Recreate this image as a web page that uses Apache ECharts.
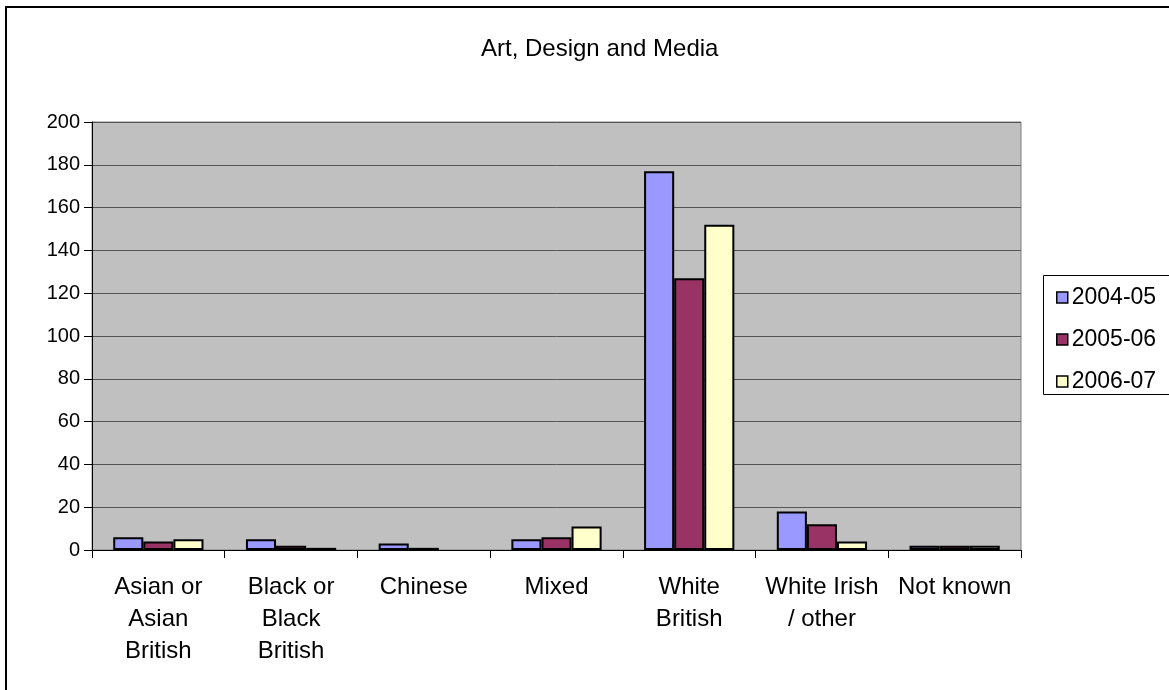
<!DOCTYPE html>
<html>
<head>
<meta charset="utf-8">
<script src="https://cdn.jsdelivr.net/npm/echarts@6/dist/echarts.min.js"></script>
<style>
  html, body { margin: 0; padding: 0; background: #ffffff; }
  #chart { width: 1169px; height: 690px; }
</style>
</head>
<body>
<div id="chart"></div>
<script>
// Ethnic groups along the x axis
const categories = [
  'Asian or\nAsian\nBritish',
  'Black or\nBlack\nBritish',
  'Chinese',
  'Mixed',
  'White\nBritish',
  'White Irish\n/ other',
  'Not known'
];

// Counts per academic year
const years = ['2004-05', '2005-06', '2006-07'];
const values2004 = [6, 5, 3, 5, 177, 18, 2];
const values2005 = [4, 2, 1, 6, 127, 12, 2];
const values2006 = [5, 1, 0, 11, 152, 4, 2];

// Value axis ticks
const yMin = 0;
const yMax = 200;
const yStep = 20;

const colors = ['#9999ff', '#993366', '#ffffcc'];
const seriesValues = [values2004, values2005, values2006];

const FONT = '"Liberation Sans", Arial, sans-serif';

// Zero counts get no outline, so nothing is drawn on the baseline for them
function toBarData(values) {
  return values.map(v => (v === 0 ? { value: v, itemStyle: { borderWidth: 0 } } : v));
}

const chart = echarts.init(document.getElementById('chart'), null, { renderer: 'canvas' });

chart.setOption({
  animation: false,
  backgroundColor: '#ffffff',
  textStyle: { fontFamily: FONT, color: '#000000' },
  title: {
    text: 'Art, Design and Media',
    left: 476,
    top: 32,
    textStyle: { fontFamily: FONT, fontSize: 24, fontWeight: 'normal', color: '#000000' }
  },
  graphic: [
    {
      // chart frame
      type: 'rect',
      shape: { x: 6, y: 7, width: 1200, height: 720 },
      style: { fill: 'none', stroke: '#000000', lineWidth: 2 },
      z: 100
    },
    {
      // legend frame
      type: 'rect',
      shape: { x: 1043.5, y: 275.5, width: 140, height: 119 },
      style: { fill: '#ffffff', stroke: '#000000', lineWidth: 1 },
      z: 0
    }
  ],
  legend: {
    data: years,
    orient: 'vertical',
    left: 1051,
    top: 281,
    itemWidth: 11,
    itemHeight: 11,
    itemGap: 19,
    icon: 'rect',
    itemStyle: { borderColor: '#000000', borderWidth: 1.5 },
    textStyle: { fontFamily: FONT, fontSize: 23, color: '#000000', padding: [0, 0, 0, -1] },
    z: 5
  },
  grid: {
    left: 92,
    right: 148,
    top: 122,
    bottom: 140,
    show: true,
    backgroundColor: '#c0c0c0',
    borderColor: '#808080',
    borderWidth: 1,
    containLabel: false
  },
  xAxis: {
    type: 'category',
    data: categories,
    axisLine: { show: true, lineStyle: { color: '#000000', width: 1 } },
    axisTick: { show: true, alignWithLabel: false, length: 8, lineStyle: { color: '#000000' } },
    axisLabel: {
      interval: 0,
      margin: 21,
      fontFamily: FONT,
      fontSize: 24,
      lineHeight: 32,
      color: '#000000'
    },
    splitLine: { show: false }
  },
  yAxis: {
    type: 'value',
    min: yMin,
    max: yMax,
    interval: yStep,
    axisLine: { show: true, lineStyle: { color: '#000000', width: 1 } },
    axisTick: { show: true, length: 8, lineStyle: { color: '#000000' } },
    axisLabel: { margin: 12, fontFamily: FONT, fontSize: 20, color: '#000000' },
    splitLine: { show: true, lineStyle: { color: '#555555', width: 1 } }
  },
  series: years.map((name, i) => ({
    name: name,
    type: 'bar',
    data: toBarData(seriesValues[i]),
    barGap: '0%',
    barCategoryGap: '32%',
    itemStyle: { color: colors[i], borderColor: '#000000', borderWidth: 2 }
  }))
});
</script>
</body>
</html>
